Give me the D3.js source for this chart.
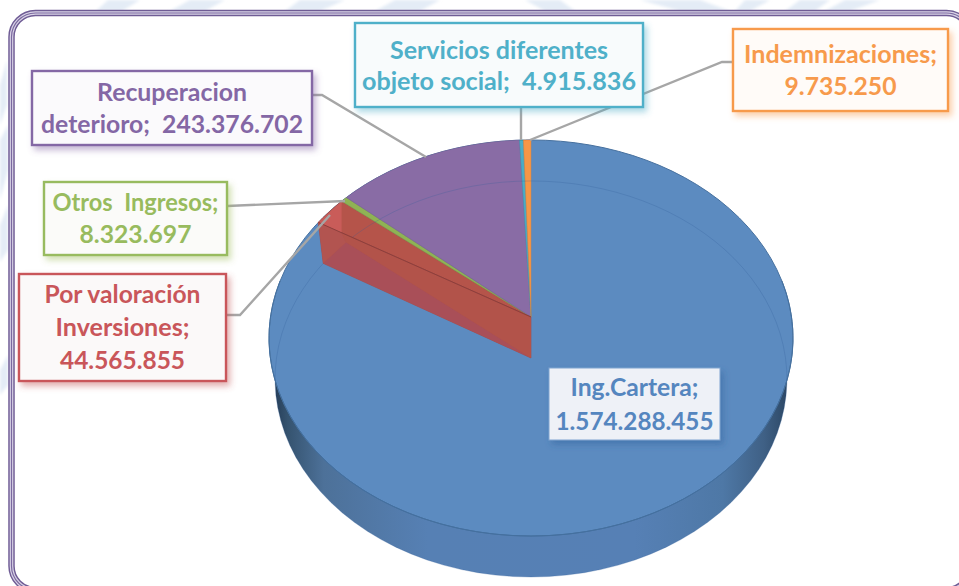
<!DOCTYPE html>
<html><head><meta charset="utf-8">
<script src="https://cdn.jsdelivr.net/npm/d3@7/dist/d3.min.js"></script>
<style>
html,body{margin:0;padding:0;background:#fff;overflow:hidden}
svg{display:block}
text{font-family:Lato,"Open Sans",sans-serif;font-weight:700;font-size:24px;text-anchor:middle;white-space:pre}
</style></head><body>
<svg id="c" width="959" height="586"></svg>
<script>
// ---- data ----
const categories = ["Ing.Cartera","Por valoración Inversiones","Otros Ingresos","Recuperacion deterioro","Servicios diferentes objeto social","Indemnizaciones"];
const values = [1574288455,44565855,8323697,243376702,4915836,9735250];
const colors = ["#5c8bc0","#b5544a","#8fb354","#896ca5","#4bacc6","#f79646"];
const textColors = ["#5586bf","#c9565a","#98bb5e","#8467a5","#4fb0c9","#f79a4c"];
const labelLines = [["Ing.Cartera;"],["Por valoración","Inversiones;"],["Otros  Ingresos;"],["Recuperacion"],["Servicios diferentes"],["Indemnizaciones;"]];
const labelLast = [true,true,true,false,false,true];
const labelPrefix = ["","","","deterioro;  ","objeto social;  ",""];

// ---- layout ----
const boxes = [[549,368,171,72],[19,274,207,107],[44,182,183,73],[32,71,280,74],[355,23,288,84],[733,29,215,82]];
const baselines = [[396,430],[303,336,369],[211,243],[101,133],[59,90],[63,95]];
const textFill = ["#eef1f7","#fbf9f9","#fbfbf9","#fbfafc","#f8fbfc","#fffbf8"];
const leaders = [null,[[226,315],[240,315],[330,215]],[[227,206],[345,201]],[[312,95],[322,95],[426,157]],[[521,107],[521,140]],[[733,62],[722,62],[530,140]]];
const textWidth = [[128,158],[156,134,125],[166,112],[150,262],[218,274],[193,112]];

const fmt = d3.formatLocale({decimal:",",thousands:".",grouping:[3],currency:["",""]}).format(",d");

const svg = d3.select("#c");
const defs = svg.append("defs");

// perspective projection of the pie disc
const P = {x:531,y:317,a:260.5,b:195.8,k:0.106,depth:41,sx:0.977};
function proj(theta,r=1,low=false){
  const u=Math.sin(theta)*r, v=-Math.cos(theta)*r, w=1-P.k*v;
  const px=P.a*u/w, py=P.b*v/w;
  return low?[P.x+px*P.sx,P.y+P.depth+py]:[P.x+px,P.y+py];
}
const line=d3.line();
const rim=(a0,a1,low=false)=>d3.range(0,101).map(i=>proj(a0+(a1-a0)*i/100,1,low));
const arcs=d3.pie().sort(null).value(d=>d).startAngle(0).endAngle(2*Math.PI)(values);

// gradients and shadows
const wall=defs.append("linearGradient").attr("id","wall").attr("gradientUnits","userSpaceOnUse").attr("x1",272).attr("x2",790).attr("y1",0).attr("y2",0);
[[0,"#233a55"],[.03,"#35536f"],[.1,"#4d7199"],[.3,"#5680b4"],[.7,"#5680b5"],[.87,"#4e78a6"],[.95,"#3f6085"],[1,"#2a4562"]]
 .forEach(s=>wall.append("stop").attr("offset",s[0]).attr("stop-color",s[1]));
const shadowCol=["#2f5f9a","#c0504d","#9bbb59","#8064a2","#4bacc6","#f79646"];
shadowCol.forEach((c,i)=>{
  defs.append("filter").attr("id","sh"+i).attr("x","-10%").attr("y","-15%").attr("width","125%").attr("height","140%")
   .append("feDropShadow").attr("dx",3).attr("dy",4).attr("stdDeviation",3).attr("flood-color",c).attr("flood-opacity",.45);
});
defs.append("filter").attr("id","soft").append("feGaussianBlur").attr("stdDeviation",1.5);

// faint watermark outside the frame
const wm=svg.append("g").attr("fill","#e4ecf6").attr("filter","url(#soft)");
[[108,0,140,0,122,11,96,11],[190,0,225,0,205,11,170,11],[300,0,345,0,320,11,285,11],[395,0,440,0,420,11,375,11],
 [525,0,560,0,575,11,545,11],[640,0,700,0,730,11,680,11],[745,0,770,0,750,11,735,11],[800,0,830,0,815,11,785,11],[845,0,880,0,850,11,825,11],
 [0,140,8,125,8,170,0,200],[0,225,8,205,8,250,0,262],[0,370,8,355,8,385,0,395],[0,85,7,60,7,105,0,125]]
 .forEach(p=>wm.append("polygon").attr("points",p.join(" ")));

// frame
const frame=svg.append("g").attr("fill","none");
const fr=(w,c)=>frame.append("rect").attr("x",11.5).attr("y",13).attr("width",959).attr("height",577).attr("rx",24).attr("stroke",c).attr("stroke-width",w);
frame.append("rect").attr("x",11.5).attr("y",13).attr("width",959).attr("height",577).attr("rx",24).attr("fill","#fff");
fr(6.5,"#6f5c95");fr(3.6,"#d9d3e6");fr(1.2,"#7b69a0");

// pie body
const g=svg.append("g");
const allAngles=[0,2*Math.PI];
g.append("path").attr("d",line(rim(...allAngles,true))+"Z").attr("fill","url(#wall)");
g.append("path").attr("d",line(rim(...allAngles))+"Z").attr("fill",colors[0]).attr("stroke","#47719f").attr("stroke-width",1);

// slices of the top face
function slicePath(d){return line([[P.x,P.y],...rim(d.startAngle,d.endAngle)])+"Z";}
g.selectAll("path.slice").data(arcs.slice(1)).join("path").attr("class","slice")
 .attr("d",slicePath).attr("fill",(d,i)=>colors[i+1]).attr("stroke",(d,i)=>d3.color(colors[i+1]).darker(.35)).attr("stroke-width",.5);

// translucent rim of the base seen through the top
g.append("path").attr("d",line(rim(...allAngles,true))+"Z").attr("fill","none").attr("stroke","#2f5a96").attr("stroke-opacity",.25).attr("stroke-width",1);
g.append("path").attr("d",line(rim(Math.PI*.44,Math.PI*1.56))).attr("fill","none").attr("stroke","#44709f").attr("stroke-width",1);

// extruded red wedge
const red=arcs[1];
const O=[P.x,P.y],O2=[P.x,P.y+P.depth],A=proj(red.startAngle),A2=proj(red.startAngle,1,true),B=proj(red.endAngle),B2=proj(red.endAngle,1,true);
const t=(B[0]-A[0])/(O[0]-A[0]);
const C=d3.interpolate(A,O)(t);
const poly=(pts,f,s)=>g.append("path").attr("d",line(pts)+"Z").attr("fill",f).attr("stroke",s||"none").attr("stroke-width",.6);
poly([O,A,A2,O2],"#b0524c","#a24a46");
poly([O2,A2,B2],"#a94f58");
poly([A,B,C],"#c95c59");
poly([A,C,B2,A2],"#b25450");
poly([O,C,B2,O2],"#b2534a");
g.append("path").attr("d",line([A,O])).attr("stroke","#8d3f3c").attr("stroke-width",1).attr("fill","none");

// leaders
const lg=svg.append("g").attr("fill","none").attr("stroke","#a6a6a6").attr("stroke-width",2.4);
leaders.forEach(l=>{if(l)lg.append("path").attr("d",line(l));});

// labels
const lab=svg.selectAll("g.lab").data(arcs).join("g").attr("class","lab");
lab.append("rect")
 .attr("x",(d,i)=>boxes[i][0]).attr("y",(d,i)=>boxes[i][1]).attr("width",(d,i)=>boxes[i][2]).attr("height",(d,i)=>boxes[i][3])
 .attr("fill",(d,i)=>textFill[i]).attr("stroke",(d,i)=>i==0?"#7fa3d0":textColors[i]).attr("stroke-width",(d,i)=>i==0?1:2.4)
 .attr("filter",(d,i)=>`url(#sh${i})`);
lab.each(function(d,i){
  const lines=labelLines[i].slice();
  const num=fmt(values[i]);
  if(labelLast[i])lines.push(num);else lines.push(labelPrefix[i]+num);
  const cx=boxes[i][0]+boxes[i][2]/2;
  lines.forEach((s,j)=>{
    d3.select(this).append("text").attr("x",cx).attr("y",baselines[i][j]).attr("fill",textColors[i])
      .attr("textLength",textWidth[i][j]).attr("lengthAdjust","spacingAndGlyphs").text(s);
  });
});
</script>
</body></html>
